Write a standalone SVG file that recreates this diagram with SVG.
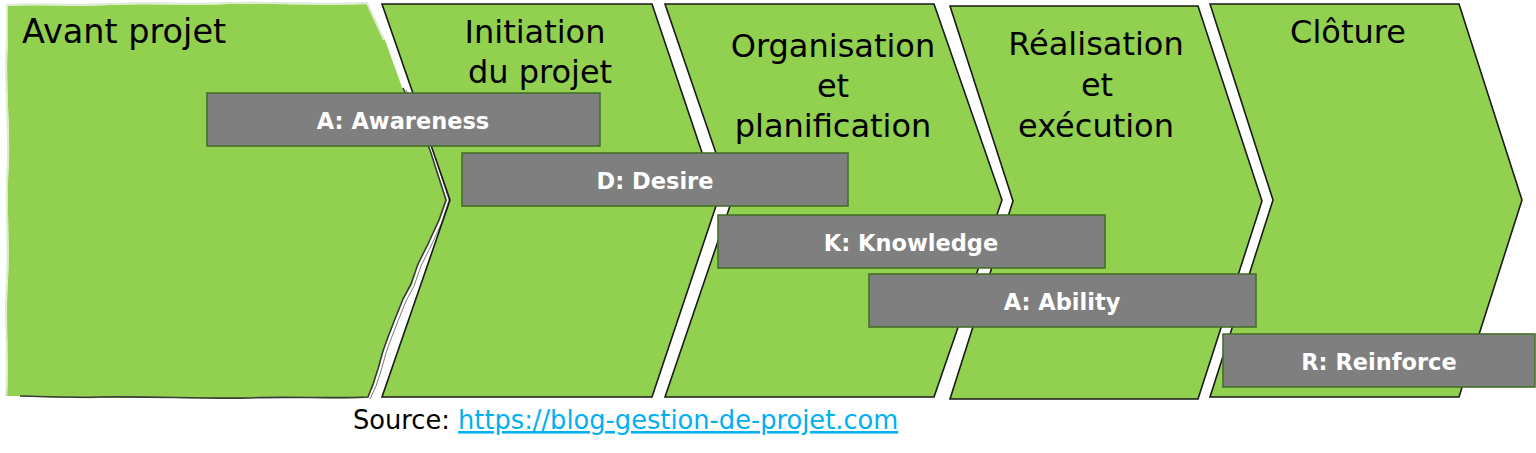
<svg xmlns="http://www.w3.org/2000/svg" width="1536" height="453" viewBox="0 0 1536 453">
  <style>
    .chev { fill: #92D050; stroke: #1a1a1a; stroke-width: 1.6; stroke-linejoin: miter; }
    .title { font-family: "DejaVu Sans", "Liberation Sans", sans-serif; font-size: 32px; fill: #000000; }
    .box { fill: #7F7F7F; stroke: #466F2B; stroke-width: 1.6; }
    .boxlabel { font-family: "DejaVu Sans", "Liberation Sans", sans-serif; font-size: 22.5px; font-weight: bold; fill: #FFFFFF; text-anchor: middle; }
    .mid { text-anchor: middle; }
  </style>
  <rect x="0" y="0" width="1536" height="453" fill="#FFFFFF"/>

  <g id="phase-avant-projet">
    <path d="M8,6 C40,4 70,7 110,5 C150,3 190,6 230,4 C270,3 320,6 368,4 L385,40 L403,90 L430,150 L447,200 L440,220 L428,245 L418,265 L412,285 L403,300 L395,320 L388,338 L383,352 L378,370 L374,385 L368,398 C330,400 290,396 250,398 C200,400 150,396 100,398 C60,399 30,396 7,396 C9,360 5,320 8,280 C10,240 6,200 9,160 C10,120 5,80 8,40 Z" fill="#92D050"/>
    <path d="M6,396 C9,360 4,320 7,280 C9,240 5,200 8,160 C9,120 4,80 7,40 L7,5 C40,3 70,6 110,4 C150,2 190,5 230,3 C270,2 320,5 367,3 L384,40" fill="none" stroke="#DDEBD2" stroke-width="2"/>
    <path d="M403,88 L430,150 L446,200 L439,220 L428,244 L418,264 L411,284 L403,299 L395,319 L388,337 L383,351 L378,369 L373,384 L368,397 C330,399 290,396 250,398 C200,399 150,396 100,397 C60,398 35,396 20,396" fill="none" stroke="#3a3a3a" stroke-width="1.6"/>
    <path d="M406,90 L433,150 L449,200 L442,222 L431,246 L421,266 L414,286 L406,301 L398,321 L391,339 L386,353 L381,371 L376,386 L370,399" fill="none" stroke="#7a7a7a" stroke-width="1"/>
    <text class="title" x="22" y="43" style="font-size:33.5px">Avant projet</text>
  </g>

  <g id="phase-initiation">
    <path class="chev" d="M382,4 L652,4 L718,200 L652,397 L382,397 L450,200 Z"/>
    <text class="title mid" x="535" y="43">Initiation</text>
    <text class="title mid" x="540" y="83">du projet</text>
  </g>

  <g id="phase-organisation">
    <path class="chev" d="M665,4 L934,4 L1002,200 L934,397 L665,397 L732,200 Z"/>
    <text class="title mid" x="833" y="57">Organisation</text>
    <text class="title mid" x="833" y="97">et</text>
    <text class="title mid" x="833" y="137">planification</text>
  </g>

  <g id="phase-realisation">
    <path class="chev" d="M950,6 L1198,6 L1262,201 L1198,399 L950,399 L1013,201 Z"/>
    <text class="title mid" x="1096" y="55">Réalisation</text>
    <text class="title mid" x="1097" y="96">et</text>
    <text class="title mid" x="1096" y="137">exécution</text>
  </g>

  <g id="phase-cloture">
    <path class="chev" d="M1210,4 L1459,4 L1522,200 L1459,397 L1210,397 L1273,200 Z"/>
    <text class="title mid" x="1348" y="43">Clôture</text>
  </g>

  <g id="connectors"></g>

  <g id="adkar-awareness">
    <rect class="box" x="207" y="93" width="393" height="53"/>
    <text class="boxlabel" x="403" y="129">A: Awareness</text>
  </g>
  <g id="adkar-desire">
    <rect class="box" x="462" y="153" width="386" height="53"/>
    <text class="boxlabel" x="655" y="189">D: Desire</text>
  </g>
  <g id="adkar-knowledge">
    <rect class="box" x="718" y="215" width="387" height="53"/>
    <text class="boxlabel" x="911" y="251">K: Knowledge</text>
  </g>
  <g id="adkar-ability">
    <rect class="box" x="869" y="274" width="387" height="53"/>
    <text class="boxlabel" x="1062" y="310">A: Ability</text>
  </g>
  <g id="adkar-reinforce">
    <rect class="box" x="1223" y="334" width="312" height="53"/>
    <text class="boxlabel" x="1379" y="370">R: Reinforce</text>
  </g>

  <g id="source">
    <text x="353" y="429" font-family="DejaVu Sans, Liberation Sans, sans-serif" font-size="25.7" fill="#000000">Source: <tspan fill="#00B0F0" text-decoration="underline">https://blog-gestion-de-projet.com</tspan></text>
  </g>
</svg>
